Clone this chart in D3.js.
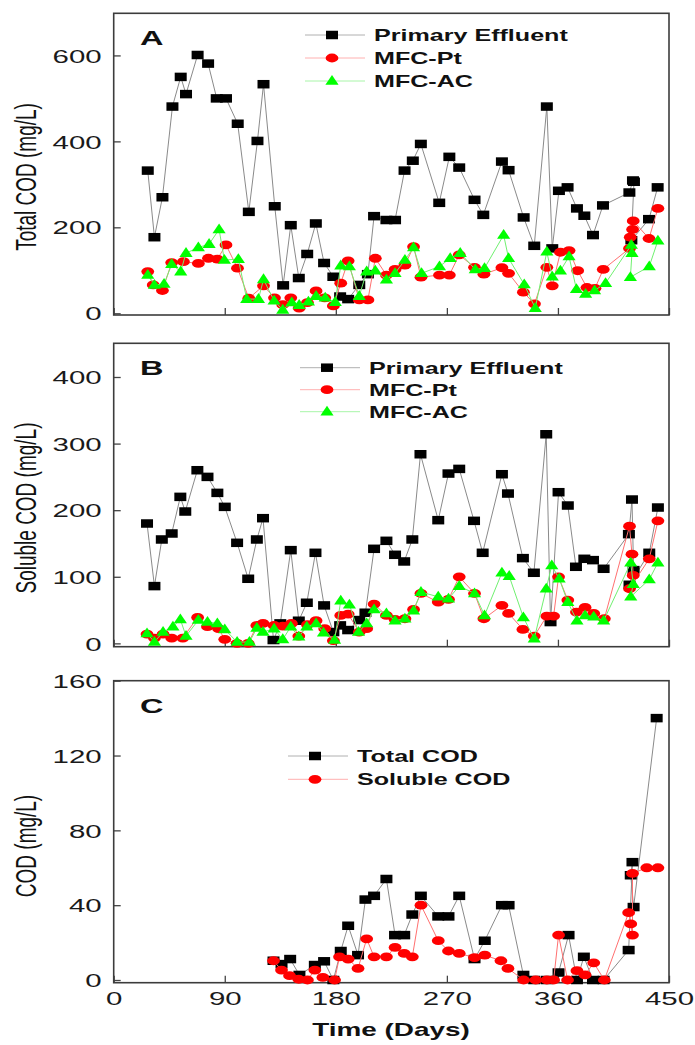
<!DOCTYPE html>
<html>
<head>
<meta charset="utf-8">
<script src="https://cdn.jsdelivr.net/npm/d3@7"></script>
<style>
  body { margin: 0; background: #fff; }
  svg { display: block; }
  text { font-family: "Liberation Sans", Arial, Helvetica, sans-serif; fill: #111; }
</style>
</head>
<body>
<svg id="chart" width="695" height="1045"></svg>
<script>
// ---------- Data ----------
const xTickValues = [0, 90, 180, 270, 360, 450];
const yTicksA = [0, 200, 400, 600];
const yTicksB = [0, 100, 200, 300, 400];
const yTicksC = [0, 40, 80, 120, 160];

// Panel A: total COD (mg/L)
const daysA_PE = [27.6,33,39.5,47.6,54.3,58.6,68,76.5,83.5,91,100.5,109.5,116.5,121.4,130.5,137.3,143.5,150,156.8,163.8,170.5,178,183.5,190,199,206,211,221,228,235.7,242.4,248.9,263.8,272,280,292.4,299.5,314.6,320,332.2,340.8,351,355.4,360.8,367.8,375.4,381.4,388.4,396.5,417.9,420.8,421.6,419.5,433.8,440.8];
const totalA_PE = [332,177,270,481,550,510,601,581,500,500,441,236,401,533,249,65,205,82,138,209,117,85,39,33,66,91,226,217,217,332,355,394,257,364,339,264,229,353,333,223,157,481,151,285,293,244,227,182,251,281,309,306,170,219,293];

const daysA_Pt = [27.6,32,39.5,47,56.5,68.6,76.8,84,91,100.3,109.5,121.4,130.3,137,143.5,150.3,157,164,171,178,184,190,199,206,212,221,228,236,243,249,264,272,280,292.4,300,314.6,320,332,341,351,355.4,362,369,376,383.5,390,396.7,418,418.6,420.5,421,433.8,441];
const totalA_Pt = [97,66,53,118,120,116,128,126,159,105,35,64,36,20,36,12,25,52,36,17,70,122,31,31,128,89,102,112,155,84,89,89,136,107,91,106,93,49,22,107,64,142,146,99,60,58,102,151,177,195,215,174,244];

const daysA_AC = [27.6,33,40.8,47,54.3,58.6,68.6,77.3,85.4,89.7,101,107.8,117.3,121.4,130,137,144.3,150.3,157.8,164,171.4,179.5,184,191,199,205,212,221,228,236,243,249.5,264,272.7,280.8,293,300.5,316,320,332.7,341.6,351,355.4,362,369,375,382.4,389.7,398.6,419.5,420,418.7,434,441];
const totalA_AC = [89,66,68,114,97,140,153,161,195,124,126,33,33,79,29,8,25,19,27,40,36,26,111,109,40,97,99,78,93,124,153,93,109,128,140,102,105,182,128,67,12,143,85,99,132,56,45,53,70,159,140,84,109,169];

// Panel B: soluble COD (mg/L)
const daysB_PE = [27,33,39,47,54,58,67.8,76,84,90,100,109,116,121,129.5,135,143.5,150,156.5,163.5,170.5,178,183.5,190,199,204,211,221,228,235.4,242,248.6,263,271.3,280,292,299,314.6,319.5,331.6,340.5,350.5,354,360.5,368,374.6,381.4,388.4,397,417.5,420,421.3,418,434,441];
const solB_PE = [180,86,156,165,220,198,260,250,226,205,151,97,156,188,5,30,140,34,61,136,57,17,27,20,35,46,142,154,133,123,156,284,185,255,262,184,136,254,225,128,106,314,32,227,207,115,127,125,112,164,216,110,88,136,204];

const daysB_Pt = [27,33,40,47,56,68,76,85,90,100,109,116,121,130,137,144,150,157,164,171,178,184,190,199,205,211,221,228,236,243,249,263,271.3,280,292.4,300,314.6,320,331.6,340.8,351,356.5,360.5,368,375,382,389,397.6,418,420,421,418,434,441];
const solB_Pt = [14,8,14,8,8,39,25,22,6,0,0,27,30,27,26,30,11,28,34,22,4,42,44,17,22,59,42,36,37,51,75,62,66,100,75,37,57,45,21,11,41,41,100,65,47,54,45,37,176,134,102,82,127,184];

const daysB_AC = [27,33,40,48,54,58.6,68.6,76,84,90,100,110,116,121,130,137,143.5,150,156.5,164,170,179,184,191,198.4,205,211,221,228,236,243,249,263,271.3,280,292.4,300.5,314.6,320.5,332,340.8,350.5,355,361,368,375.4,382,389,397,419,421,419,434,441];
const solB_AC = [15,2,17,25,36,11,35,32,30,21,2,2,23,17,22,6,25,10,25,30,16,5,64,58,17,30,51,45,34,37,49,77,70,67,86,75,42,106,101,39,7,82,117,97,62,34,42,40,34,121,89,70,96,121];

// Panel C: MFC effluent COD (mg/L)
const daysC_Total = [129.5,136,143,150.5,163,170.5,178,184,190,198,204,211,221,228,235.4,242,248.9,263,271.3,280,292.4,300.7,314.6,320,332,340.8,351,360.5,368.6,375.4,381,388.4,397,417.3,420.4,419,421.3,440];
const codC_Total = [10.3,8.5,11.2,2.7,8,10,0,15.5,29,13.3,43,45,54,24,24,35,45,34,34,45,11.2,21,40,40,2.7,0,0,4,24,0,12.4,0,0,16,63,56,39,140];

const daysC_Sol = [129.5,136,142.5,150,157,163,169.5,179,183,190,198,205,211,221,228,235.4,242,249,263,271.3,280,292.4,300.7,313.8,319.5,332.2,342,351,356.5,360.5,367.8,375.4,382,389,397.6,417.3,419,420.4,420.4,432,441];
const codC_Sol = [10.3,5.3,2.3,0.4,0,5.3,1.4,0,12.4,11.2,6.2,22,12.4,12.4,17.4,14.2,12.4,40,21,15.5,14.2,12,13.3,10.3,6.2,0,0,0,0,24,0,5,2.7,9.2,0,36,30,24,57,60,60];

// ---------- Layout ----------
const SX = 1.55;                 // horizontal glyph stretch used throughout
const svg = d3.select("#chart");
const x = d3.scaleLinear().domain([0, 450]).range([113.7, 669]);

const styles = {
  square:   { fill: "#000000", line: "#8a8a8a", legendLine: "#b0b0b0" },
  circle:   { fill: "#ff0000", line: "#ff7070", legendLine: "#ffb0b0" },
  triangle: { fill: "#00ff00", line: "#70f070", legendLine: "#a8f5a8" }
};

const panels = [
  {
    label: "A", title: "Total COD (mg/L)", titleY: 177,
    domain: [-4, 698], range: [315, 13.3], ticks: yTicksA, xLabels: false,
    legend: { x: 305, y: 35, step: 23 },
    series: [
      { name: "Primary Effluent", marker: "square",   days: daysA_PE, vals: totalA_PE },
      { name: "MFC-Pt",           marker: "circle",   days: daysA_Pt, vals: totalA_Pt },
      { name: "MFC-AC",           marker: "triangle", days: daysA_AC, vals: totalA_AC }
    ]
  },
  {
    label: "B", title: "Soluble COD (mg/L)", titleY: 508,
    domain: [-5, 450.6], range: [646.7, 343.3], ticks: yTicksB, xLabels: false,
    legend: { x: 300, y: 367.7, step: 22 },
    series: [
      { name: "Primary Effluent", marker: "square",   days: daysB_PE, vals: solB_PE },
      { name: "MFC-Pt",           marker: "circle",   days: daysB_Pt, vals: solB_Pt },
      { name: "MFC-AC",           marker: "triangle", days: daysB_AC, vals: solB_AC }
    ]
  },
  {
    label: "C", title: "COD (mg/L)", titleY: 846,
    domain: [-1.44, 160], range: [982.7, 680.7], ticks: yTicksC, xLabels: true,
    legend: { x: 288, y: 756, step: 23.3 },
    series: [
      { name: "Total COD",   marker: "square", days: daysC_Total, vals: codC_Total },
      { name: "Soluble COD", marker: "circle", days: daysC_Sol,   vals: codC_Sol }
    ]
  }
];

function drawMarker(g, type, cx, cy) {
  const st = styles[type];
  if (type === "square") {
    g.append("rect").attr("x", cx - 6).attr("y", cy - 4.25)
      .attr("width", 12).attr("height", 8.5).attr("fill", st.fill);
  } else if (type === "circle") {
    g.append("ellipse").attr("cx", cx).attr("cy", cy)
      .attr("rx", 6.4).attr("ry", 4.4).attr("fill", st.fill);
  } else {
    g.append("path")
      .attr("d", `M${cx},${cy - 6}L${cx + 6.6},${cy + 3.8}L${cx - 6.6},${cy + 3.8}Z`)
      .attr("fill", st.fill);
  }
}

function stretchedText(g, tx, ty, str, size, weight, anchor) {
  return g.append("text")
    .attr("transform", `translate(${tx},${ty}) scale(${SX},1)`)
    .attr("text-anchor", anchor || "start")
    .style("font-size", size + "px")
    .style("font-weight", weight || "normal")
    .text(str);
}

panels.forEach(p => {
  const y = d3.scaleLinear().domain(p.domain).range(p.range);
  const g = svg.append("g");
  const top = p.range[1], bottom = p.range[0];

  // y axis, ticks pointing inward
  const yAxis = g.append("g").attr("transform", `translate(${x.range()[0]},0)`)
    .call(d3.axisLeft(y).tickValues(p.ticks).tickSize(-7).tickPadding(0).tickFormat(d3.format("d")));
  yAxis.select(".domain").remove();
  yAxis.selectAll(".tick line").attr("stroke", "#444").attr("stroke-width", 1.3);
  yAxis.selectAll(".tick text")
    .attr("x", -12 / SX).attr("dy", "0.35em")
    .attr("transform", `scale(${SX},1)`)
    .attr("text-anchor", "end")
    .style("font-size", "19px").style("fill", "#1a1a1a");

  // x axis, ticks pointing inward
  const xAxis = g.append("g").attr("transform", `translate(0,${bottom})`)
    .call(d3.axisBottom(x).tickValues(xTickValues).tickSize(-7).tickPadding(0)
      .tickFormat(p.xLabels ? d3.format("d") : ""));
  xAxis.select(".domain").remove();
  xAxis.selectAll(".tick line").attr("stroke", "#444").attr("stroke-width", 1.3);
  xAxis.selectAll(".tick text")
    .attr("x", 0).attr("y", 9).attr("dy", "0.71em")
    .attr("transform", `scale(${SX},1)`)
    .style("font-size", "19px").style("fill", "#1a1a1a");

  // frame
  g.append("rect")
    .attr("x", x.range()[0]).attr("y", top)
    .attr("width", x.range()[1] - x.range()[0]).attr("height", bottom - top)
    .attr("fill", "none").attr("stroke", "#3c3c3c").attr("stroke-width", 1.6);

  // series
  const line = d3.line().x(d => x(d[0])).y(d => y(d[1]));
  p.series.forEach(s => {
    const pts = d3.zip(s.days, s.vals);
    g.append("path").datum(pts).attr("d", line)
      .attr("fill", "none").attr("stroke", styles[s.marker].line).attr("stroke-width", 1);
    const mg = g.append("g");
    pts.forEach(d => drawMarker(mg, s.marker, x(d[0]), y(d[1])));
  });

  // panel letter
  stretchedText(g, 140, top + 32, p.label, 21, "bold");

  // y title (rotated, glyphs widened on screen x)
  g.append("text")
    .attr("transform", `translate(26,${p.titleY}) scale(${SX},1) rotate(-90)`)
    .attr("text-anchor", "middle").attr("dy", "0.35em")
    .style("font-size", "19px")
    .text(p.title);

  // legend
  p.series.forEach((s, i) => {
    const ly = p.legend.y + i * p.legend.step;
    const lx = p.legend.x;
    g.append("line").attr("x1", lx).attr("x2", lx + 60).attr("y1", ly).attr("y2", ly)
      .attr("stroke", styles[s.marker].legendLine).attr("stroke-width", 1);
    drawMarker(g, s.marker, lx + 27, ly);
    stretchedText(g, lx + 69, ly + 5.8, s.name, 16.2, "bold");
  });
});

// x title
stretchedText(svg, 391, 1036, "Time (Days)", 18, "bold", "middle");
</script>
</body>
</html>
